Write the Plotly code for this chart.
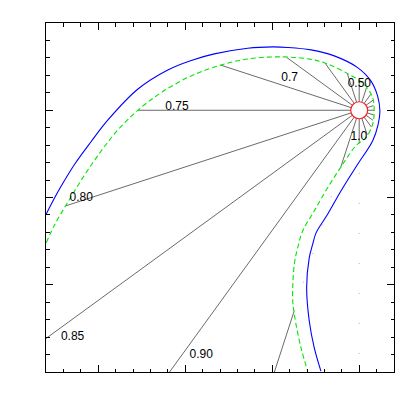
import numpy as np
import plotly.graph_objects as go

# outer shock (blue), star at origin
blue_x = [-3.597, -3.502, -3.425, -3.273, -3.080, -2.888, -2.543, -2.200, -1.931, -1.665,
          -1.281, -0.994, -0.822, -0.554, -0.287, -0.018, 0.134, 0.211, 0.238, 0.218,
          0.154, -0.018, -0.21, -0.363, -0.497, -0.535, -0.574, -0.604, -0.574, -0.517,
          -0.44]
blue_y = [-1.189, -1.006, -0.869, -0.622, -0.358, -0.111, 0.244, 0.462, 0.571, 0.646,
          0.711, 0.726, 0.720, 0.692, 0.623, 0.489, 0.336, 0.164, -0.008, -0.161,
          -0.352, -0.619, -0.925, -1.193, -1.408, -1.537, -1.69, -2.034, -2.416, -2.722,
          -2.99]

# contact surface (green dashed)
green_x = [-3.597, -3.502, -3.348, -3.157, -2.966, -2.774, -2.544, -2.277, -1.932, -1.588,
           -1.281, -0.899, -0.555, -0.382, -0.133, 0.057, 0.154, 0.172, 0.154, 0.077,
           -0.03, -0.19, -0.363, -0.517, -0.65, -0.707, -0.746, -0.765, -0.746, -0.669,
           -0.592]
green_y = [-1.518, -1.315, -1.052, -0.742, -0.467, -0.226, 0.0, 0.202, 0.393, 0.519,
           0.588, 0.612, 0.583, 0.537, 0.42, 0.298, 0.145, -0.008, -0.161, -0.314,
           -0.398, -0.62, -0.888, -1.155, -1.384, -1.576, -1.766, -2.149, -2.339, -2.722,
           -2.99]

# rays from the star, degrees
spoke_angles = list(range(0, 360, 18))
dotted_spokes = [252, 270]

label_text = ["0.50", "0.7", "0.75", "0.80", "0.85", "0.90", "1.0"]
label_x = [0.002, -0.799, -2.095, -3.196, -3.294, -1.816, -0.003]
label_y = [0.302, 0.371, 0.032, -1.006, -2.601, -2.80, -0.306]


def ray_hits(angle, px, py):
    """Distances along a ray from the origin where it crosses the polyline."""
    d = np.array([np.cos(np.radians(angle)), np.sin(np.radians(angle))])
    hits = []
    for i in range(len(px) - 1):
        p1 = np.array([px[i], py[i]])
        e = np.array([px[i + 1] - px[i], py[i + 1] - py[i]])
        den = d[0] * (-e[1]) - d[1] * (-e[0])
        if abs(den) < 1e-12:
            continue
        t = (p1[0] * (-e[1]) - p1[1] * (-e[0])) / den
        s = (d[0] * p1[1] - d[1] * p1[0]) / den
        if t > 1e-6 and 0 <= s <= 1:
            hits.append(t)
    return sorted(hits), d


far = 10.0
solid_x, solid_y, dot_x, dot_y = [], [], [], []
for a in spoke_angles:
    hits, d = ray_hits(a, green_x, green_y)
    first = hits[0] if hits else far
    solid_x += [0, first * d[0], None]
    solid_y += [0, first * d[1], None]
    if len(hits) >= 2:
        solid_x += [hits[1] * d[0], far * d[0], None]
        solid_y += [hits[1] * d[1], far * d[1], None]
    if hits and a in dotted_spokes:
        end = hits[1] if len(hits) >= 2 else far
        dot_x += [first * d[0], end * d[0], None]
        dot_y += [first * d[1], end * d[1], None]

fig = go.Figure()
fig.add_trace(go.Scatter(x=dot_x, y=dot_y, mode="lines",
                         line=dict(color="#b0b0b0", width=1, dash="1px,29px"),
                         hoverinfo="skip"))
fig.add_trace(go.Scatter(x=solid_x, y=solid_y, mode="lines",
                         line=dict(color="#444444", width=0.8), hoverinfo="skip"))
fig.add_trace(go.Scatter(x=blue_x, y=blue_y, mode="lines",
                         line=dict(color="#0000ff", width=1.1, shape="spline",
                                   smoothing=1.0)))
fig.add_trace(go.Scatter(x=green_x, y=green_y, mode="lines",
                         line=dict(color="#00e600", width=1.1, dash="5px,3px",
                                   shape="spline", smoothing=1.0)))
fig.add_trace(go.Scatter(x=[0], y=[0], mode="markers",
                         marker=dict(size=17, color="white",
                                     line=dict(color="#ff2020", width=1.2))))
fig.add_trace(go.Scatter(x=label_x, y=label_y, mode="text", text=label_text,
                         textfont=dict(family="Liberation Sans, Arial", size=12,
                                       color="black")))

axis = dict(showgrid=False, zeroline=False, showticklabels=False,
            ticks="inside", ticklen=7, tickwidth=1, tickcolor="black",
            showline=True, linecolor="black", linewidth=1, mirror="ticks",
            dtick=1, tick0=0,
            minor=dict(ticks="inside", ticklen=3.5, dtick=0.2, tick0=0,
                       tickcolor="black", tickwidth=1, showgrid=False))

fig.update_layout(
    width=415, height=415,
    margin=dict(l=38, r=29, t=15, b=51),
    paper_bgcolor="white", plot_bgcolor="white",
    showlegend=False,
    xaxis=dict(range=[-3.6, 0.4], **axis),
    yaxis=dict(range=[-3, 1], **axis),
)

fig.write_html("out.html")
